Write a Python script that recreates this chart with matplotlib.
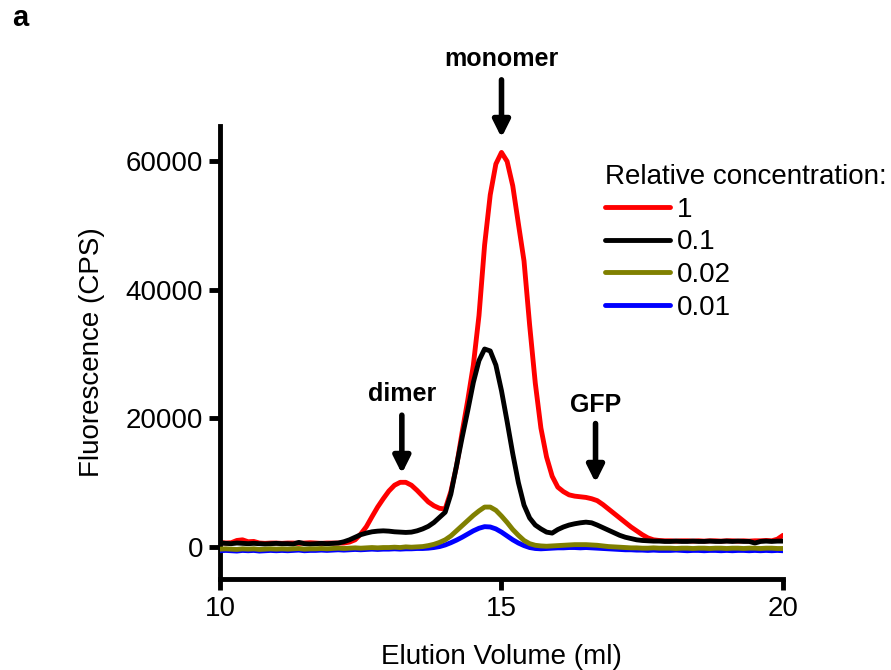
import numpy as np
import matplotlib
matplotlib.use("Agg")
import matplotlib.pyplot as plt

# ## ---- ## #
# ## Data ## #
# ## ---- ## #

# elution volume sampled every 0.1 ml
volume = np.linspace(10, 20, 101)

conc_1 = [700, 600, 650, 1000, 1100, 800, 850, 600, 550, 600,
          600, 550, 600, 600, 550, 600, 650, 600, 550, 600,
          600, 600, 600, 750, 1100, 2000, 3150, 4700, 6200, 7500,
          8700, 9600, 10050, 10050, 9600, 8800, 7900, 7000, 6400, 6000,
          5900, 8600, 12500, 17800, 22800, 28300, 36000, 47000, 54800, 59600,
          61400, 60000, 56200, 50300, 44500, 34500, 25500, 18500, 14000, 11000,
          9300, 8600, 8100, 7900, 7800, 7700, 7500, 7200, 6600, 5900,
          5200, 4500, 3800, 3100, 2500, 1900, 1400, 1100, 1000, 950,
          950, 900, 950, 950, 900, 950, 900, 950, 950, 900,
          950, 950, 900, 950, 900, 950, 950, 1000, 950, 1200,
          1800]

conc_01 = [600, 550, 500, 600, 550, 500, 550, 500, 450, 500,
           550, 500, 500, 450, 700, 500, 450, 500, 550, 500,
           550, 600, 800, 1100, 1500, 1900, 2150, 2350, 2450, 2500,
           2450, 2350, 2300, 2250, 2300, 2500, 2800, 3200, 3800, 4600,
           5400, 8200, 12600, 17000, 21200, 25600, 29000, 30800, 30500, 28300,
           24300, 19500, 14500, 10000, 6500, 4500, 3400, 2800, 2300, 2150,
           2700, 3100, 3400, 3600, 3750, 3850, 3750, 3400, 3000, 2600,
           2200, 1800, 1500, 1300, 1100, 1000, 950, 900, 900, 850,
           850, 900, 850, 850, 900, 850, 850, 900, 850, 850,
           900, 850, 900, 850, 850, 600, 850, 900, 850, 900,
           900]

conc_002 = [-350, -300, -350, -400, -300, -350, -300, -400, -350, -300,
            -350, -300, -350, -300, -250, -350, -300, -300, -250, -300,
            -250, -200, -250, -200, -150, -200, -150, -100, -150, -100,
            -100, -50, -100, 0, -50, 0, 50, 200, 400, 700,
            1100, 1700, 2500, 3300, 4100, 4900, 5600, 6200, 6200, 5700,
            4800, 3800, 2700, 1800, 1000, 500, 250, 150, 100, 150,
            200, 250, 300, 350, 350, 350, 300, 250, 150, 50,
            0, -50, -100, -150, -150, -200, -200, -150, -200, -200,
            -200, -250, -200, -200, -250, -200, -200, -250, -200, -200,
            -250, -200, -200, -250, -200, -200, -250, -200, -200, -250,
            -250]

conc_001 = [-600, -550, -600, -650, -550, -600, -550, -650, -600, -550,
            -600, -550, -600, -550, -500, -600, -550, -550, -500, -550,
            -500, -450, -500, -450, -400, -450, -400, -350, -400, -350,
            -350, -300, -350, -300, -300, -250, -250, -200, -100, 50,
            300, 650, 1050, 1500, 2000, 2500, 2900, 3150, 3100, 2800,
            2300, 1700, 1100, 600, 200, -100, -250, -300, -250, -200,
            -150, -150, -100, -100, -150, -100, -150, -200, -250, -300,
            -350, -400, -450, -450, -500, -500, -550, -500, -550, -550,
            -550, -500, -550, -600, -550, -550, -600, -550, -550, -600,
            -550, -600, -550, -550, -600, -550, -600, -550, -600, -550,
            -600]

series_labels = ["1", "0.1", "0.02", "0.01"]
series_colors = ["#ff0000", "#000000", "#808000", "#0000ff"]
y_ticks = [0, 20000, 40000, 60000]
x_ticks = [10, 15, 20]

# peak annotations: label, x, arrow tail y, arrow tip y, text y
peaks = [("monomer", 15.0, 72700, 63700, 76000),
         ("dimer", 13.23, 20500, 11400, 23800),
         ("GFP", 16.67, 19200, 10000, 22100)]

# ## ----- ## #
# ## Style ## #
# ## ----- ## #

plt.rcParams["font.family"] = ["Liberation Sans", "DejaVu Sans"]
plt.rcParams["font.size"] = 20

fig = plt.figure(figsize=(8.91, 6.70), dpi=100)
ax = fig.add_axes([0.2469, 0.1358, 0.6319, 0.676])

series = [conc_1, conc_01, conc_002, conc_001]
zorders = [2, 3, 5, 4]
for values, label, color, z in zip(series, series_labels, series_colors, zorders):
    ax.plot(volume, values, color=color, lw=3.5, label=label, zorder=z,
            solid_capstyle="round", solid_joinstyle="round")

ax.set_xlim(10, 20)
ax.set_ylim(-5000, 65500)
ax.set_xticks(x_ticks)
ax.set_yticks(y_ticks)
ax.set_xticklabels([str(t) for t in x_ticks])
ax.set_yticklabels([str(t) for t in y_ticks])

for side in ["top", "right"]:
    ax.spines[side].set_visible(False)
for side in ["left", "bottom"]:
    ax.spines[side].set_linewidth(3.5)
ax.tick_params(direction="out", length=8, width=3.5, labelsize=20, pad=4)

ax.set_xlabel("Elution Volume (ml)", fontsize=20, labelpad=16)
ax.set_ylabel("Fluorescence (CPS)", fontsize=20, labelpad=15)

# Arrows and peak labels
for name, px, tail, tip, ty in peaks:
    ax.annotate("", xy=(px, tip), xytext=(px, tail),
                arrowprops=dict(arrowstyle="-|>,head_length=0.5,head_width=0.25",
                                lw=4, color="black", shrinkA=0, shrinkB=0,
                                mutation_scale=20),
                annotation_clip=False)
    ax.text(px, ty, name, ha="center", va="center", fontsize=18,
            fontweight="bold", clip_on=False)

# Legend
leg = ax.legend(title="Relative concentration:", loc="upper left",
                bbox_to_anchor=(605 / 891, 1 - 164 / 670),
                bbox_transform=fig.transFigure, frameon=False,
                fontsize=20, title_fontsize=20, handlelength=2.35,
                handletextpad=0.25, labelspacing=0.24, borderpad=0,
                borderaxespad=0, alignment="left")
for line in leg.get_lines():
    line.set_linewidth(3.5)

fig.text(12 / 891, 1 - 18 / 670, "a", fontsize=21, fontweight="bold",
         ha="left", va="center")

fig.savefig("out.png", dpi=100)
